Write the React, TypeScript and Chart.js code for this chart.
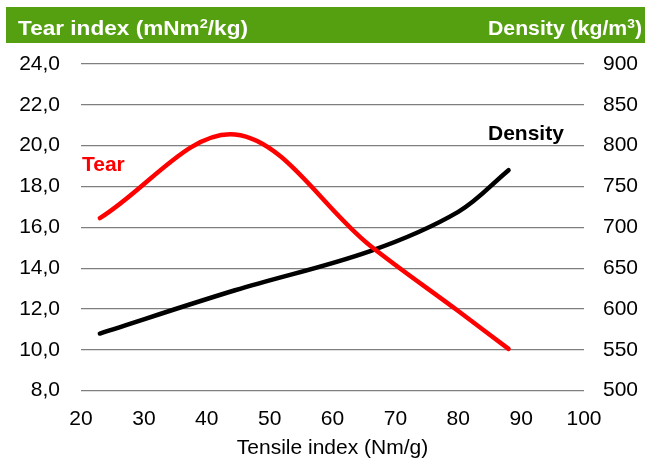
import React, { useEffect, useRef } from "react";
import { Chart, registerables } from "chart.js";

Chart.register(...registerables);

// Tensile index (x) shared by both measured series
const tensile = [23, 44.5, 66, 80, 88];
// Tear index (left axis)
const tear = [16.45, 20.55, 15.1, 11.9, 10.05];
// Density (right axis)
const density = [570, 623, 671, 719, 770];

const xTicks = [20, 30, 40, 50, 60, 70, 80, 90, 100];
const leftTicks = [8, 10, 12, 14, 16, 18, 20, 22, 24];
const rightTicks = [500, 550, 600, 650, 700, 750, 800, 850, 900];

const leftTitle = ["Tear index (mNm", "2", "/kg)"];
const rightTitle = ["Density (kg/m", "3", ")"];
const xTitle = "Tensile index (Nm/g)";
const tearLabel = "Tear";
const densLabel = "Density";

const FONT = "'Liberation Sans', Arial, sans-serif";
const GREEN = "#55A011";

function drawRich(
  ctx: CanvasRenderingContext2D,
  parts: string[],
  x: number,
  baseline: number,
  align: "left" | "right",
  targetWidth: number
) {
  const main = `bold 20px ${FONT}`;
  const sup = `bold 13px ${FONT}`;
  const widths = parts.map((p, i) => {
    ctx.font = i % 2 === 1 ? sup : main;
    return ctx.measureText(p).width;
  });
  const total = widths.reduce((a, b) => a + b, 0);
  const s = targetWidth / total;
  ctx.save();
  const startX = align === "left" ? x : x - targetWidth;
  ctx.translate(startX, baseline);
  ctx.scale(s, 1);
  ctx.textAlign = "left";
  ctx.textBaseline = "alphabetic";
  let cx = 0;
  parts.forEach((p, i) => {
    const isSup = i % 2 === 1;
    ctx.font = isSup ? sup : main;
    ctx.fillText(p, cx, isSup ? -7 : 0);
    cx += widths[i];
  });
  ctx.restore();
}

const overlayPlugin = {
  id: "overlay",
  afterDraw(chart: any) {
    const ctx: CanvasRenderingContext2D = chart.ctx;
    ctx.save();
    ctx.fillStyle = GREEN;
    ctx.fillRect(6, 7, 639, 36);
    ctx.fillStyle = "#ffffff";
    drawRich(ctx, leftTitle, 18, 35, "left", 230);
    drawRich(ctx, rightTitle, 642, 35, "right", 154);
    ctx.restore();

    const xs = chart.scales.x;
    const yl = chart.scales.y;
    const yr = chart.scales.y1;
    ctx.save();
    ctx.textBaseline = "alphabetic";
    ctx.font = `bold 21px ${FONT}`;
    ctx.fillStyle = "#FF0000";
    ctx.textAlign = "left";
    ctx.fillText(tearLabel, xs.getPixelForValue(20.15), yl.getPixelForValue(18.75));
    ctx.fillStyle = "#000000";
    ctx.textAlign = "right";
    ctx.fillText(densLabel, xs.getPixelForValue(96.8), yr.getPixelForValue(807));
    ctx.restore();
  },
};

export default function App() {
  const ref = useRef<HTMLCanvasElement>(null);

  useEffect(() => {
    if (!ref.current) return;
    const chart = new Chart(ref.current, {
      type: "line",
      data: {
        datasets: [
          {
            label: "Tear",
            data: tensile.map((x, i) => ({ x, y: tear[i] })),
            borderColor: "#FF0000",
            backgroundColor: "#FF0000",
            borderWidth: 4.5,
            pointRadius: 0,
            tension: 0.35,
            borderCapStyle: "round",
            borderJoinStyle: "round",
            yAxisID: "y",
          },
          {
            label: "Density",
            data: tensile.map((x, i) => ({ x, y: density[i] })),
            borderColor: "#000000",
            backgroundColor: "#000000",
            borderWidth: 4.5,
            pointRadius: 0,
            tension: 0.35,
            borderCapStyle: "round",
            borderJoinStyle: "round",
            yAxisID: "y1",
          },
        ],
      },
      options: {
        responsive: false,
        animation: false,
        layout: { padding: { top: 64, left: 0, right: 0, bottom: 0 } },
        plugins: {
          legend: { display: false },
          tooltip: { enabled: false },
        },
        scales: {
          x: {
            type: "linear",
            min: xTicks[0],
            max: xTicks[xTicks.length - 1],
            afterBuildTicks: (s: any) => {
              s.ticks = xTicks.map((v) => ({ value: v }));
            },
            afterFit: (s: any) => {
              s.height = 70.3;
            },
            grid: { display: false, drawTicks: false },
            border: { display: false },
            ticks: {
              padding: 16,
              color: "#000",
              font: { family: FONT, size: 21 },
              maxRotation: 0,
            },
            title: {
              display: true,
              text: xTitle,
              color: "#000",
              font: { family: FONT, size: 21 },
              padding: { top: 0, bottom: 0 },
            },
          },
          y: {
            type: "linear",
            position: "left",
            min: leftTicks[0],
            max: leftTicks[leftTicks.length - 1],
            afterBuildTicks: (s: any) => {
              s.ticks = leftTicks.map((v) => ({ value: v }));
            },
            afterFit: (s: any) => {
              s.width = 81;
            },
            grid: { color: "#7f7f7f", lineWidth: 1.2, drawTicks: false },
            border: { display: false },
            ticks: {
              padding: 21,
              color: "#000",
              font: { family: FONT, size: 21 },
              callback: (v: any) => Number(v).toFixed(1).replace(".", ","),
            },
          },
          y1: {
            type: "linear",
            position: "right",
            min: rightTicks[0],
            max: rightTicks[rightTicks.length - 1],
            afterBuildTicks: (s: any) => {
              s.ticks = rightTicks.map((v) => ({ value: v }));
            },
            afterFit: (s: any) => {
              s.width = 66;
            },
            grid: { display: false, drawTicks: false },
            border: { display: false },
            ticks: {
              padding: 19,
              color: "#000",
              font: { family: FONT, size: 21 },
              callback: (v: any) => String(v),
            },
          },
        },
      },
      plugins: [overlayPlugin],
    } as any);
    return () => chart.destroy();
  }, []);

  return (
    <div style={{ position: "fixed", left: 0, top: 0, width: 650, height: 461, background: "#fff" }}>
      <canvas ref={ref} width={650} height={461} style={{ display: "block" }} />
    </div>
  );
}
